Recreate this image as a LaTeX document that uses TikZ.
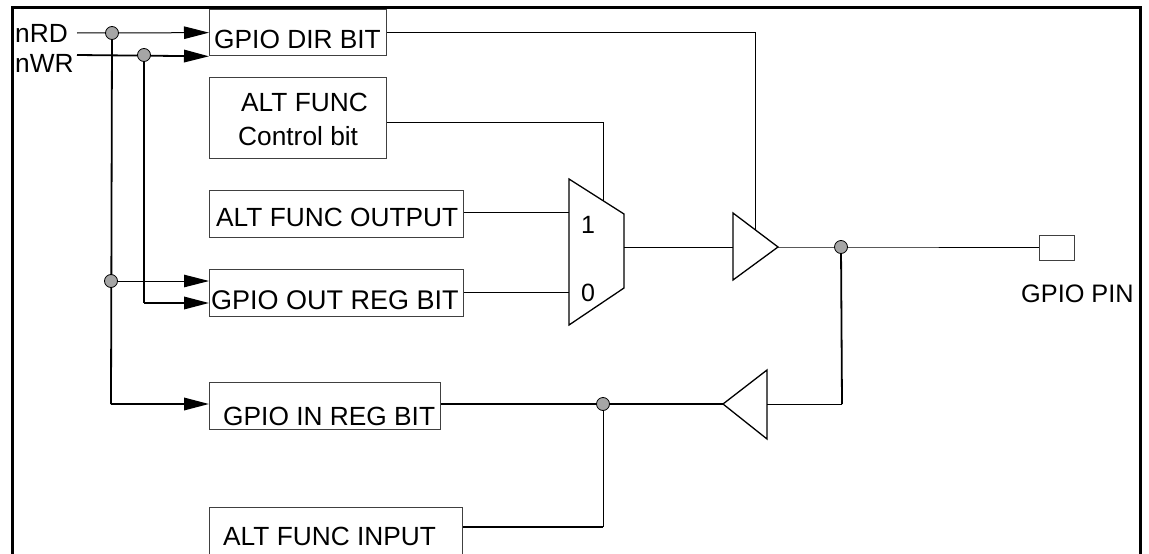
\documentclass[tikz,border=0pt]{standalone}
\usepackage{fontspec}
\setmainfont{Liberation Sans}
\usetikzlibrary{arrows.meta,calc}
\begin{document}
\begin{tikzpicture}[x=1pt,y=-1pt,
  box/.style={draw=black!75,line width=1.3pt,anchor=north west,inner sep=0pt,minimum width=#1},
  txt/.style={anchor=base west,inner sep=0pt,font=\fontsize{26.3}{30}\selectfont},
  lbl/.style={anchor=base,inner sep=0pt,font=\fontsize{25}{30}\selectfont},
  thin/.style={line width=1pt},
  thick/.style={line width=1.8pt},
  arr/.style={-{Triangle[length=25pt,width=12.5pt]}},
  jdot/.style={circle,fill=black!35,draw=black,line width=0.8pt,minimum size=13pt,inner sep=0pt},
  shp/.style={line width=1.3pt,line join=miter}
]
\useasboundingbox (0,0) rectangle (1149,554);
\fill[white] (0,0) rectangle (1149,554);
% frame
\draw[line width=3pt] (12,556) -- (12,7) -- (1140,7) -- (1140,556);

% boxes
\node[box=177pt,minimum height=46pt] (dir) at (209,9) {};
\node[box=177pt,minimum height=81pt] (ctrl) at (209,77) {};
\node[box=254pt,minimum height=47pt] (altout) at (209,190) {};
\node[box=254pt,minimum height=47pt] (outreg) at (209,269) {};
\node[box=231pt,minimum height=47pt] (inreg) at (209,382) {};
\node[box=253pt,minimum height=50pt] (altin) at (209,507) {};
\node[box=35pt,minimum height=25pt] (pin) at (1039,235) {};

% texts
\node[txt] (tnrd) at (15,42) {nRD};
\node[txt] (tnwr) at (15,72) {nWR};
\node[txt] (tdir) at (214,48) {GPIO DIR BIT};
\node[txt] (tctrl1) at (241,111) {ALT FUNC};
\node[txt] (tctrl2) at (238,145) {Control bit};
\node[txt] (taltout) at (216,226) {ALT FUNC OUTPUT};
\node[txt,font=\fontsize{27}{30}\selectfont] (toutreg) at (211,309) {GPIO OUT REG BIT};
\node[txt] (tinreg) at (223,425) {GPIO IN REG BIT};
\node[txt] (taltin) at (223,545) {ALT FUNC INPUT};
\node[txt,font=\fontsize{25.3}{30}\selectfont] (tpin) at (1021,302) {GPIO PIN};
\node[lbl] (one) at (588,233) {1};
\node[lbl] (zero) at (588,301) {0};

% mux
\coordinate (mtl) at (569,179);
\coordinate (mtr) at (624,214);
\coordinate (mbr) at (624,288);
\coordinate (mbl) at (569,325);
\coordinate (mout) at (624,247);
\coordinate (min1) at (569,212);
\coordinate (min0) at (569,292);
\coordinate (msel) at (603,200.6);
\draw[shp] (mtl) -- (mtr) -- (mbr) -- (mbl) -- cycle;

% output buffer
\coordinate (obt) at (733,213);
\coordinate (obb) at (733,280);
\coordinate (obtip) at (778,247);
\coordinate (obin) at (733,247);
\coordinate (oben) at (755,229.6);
\draw[shp] (obt) -- (obtip) -- (obb) -- cycle;

% input buffer
\coordinate (ibt) at (767,370);
\coordinate (ibb) at (767,439);
\coordinate (ibtip) at (723,404);
\coordinate (ibin) at (767,404);
\draw[shp] (ibt) -- (ibtip) -- (ibb) -- cycle;

% free ends and corners
\coordinate (rdstart) at (77,33);
\coordinate (wrstart) at (77,55);
\coordinate (rdbot) at (111,404);
\coordinate (wrbot) at (144,303);
\coordinate (dircorner) at (755,32);
\coordinate (ctrlcorner) at (603,122);
\coordinate (pincorner) at (842,404);
\coordinate (altincorner) at (603,527);

% dots (positions)
\coordinate (prd) at (112,33);
\coordinate (pwr) at (144,55);
\coordinate (pout) at (111,281);
\coordinate (pgp) at (841,247);
\coordinate (pin2) at (603,404);

% connectors
\draw[thin,arr] (rdstart) -- (dir.west);
\draw[thick,arr] (wrstart) -- (dir.south west);
\draw[thick] (prd) -- (rdbot);
\draw[thick,arr] (rdbot) -- (rdbot -| inreg.west);
\draw[thin,arr] (pout) -- (pout -| outreg.west);
\draw[thick] (pwr) -- (wrbot);
\draw[thick,arr] (wrbot) -- (wrbot -| outreg.west);

\draw[thin] (dir.east |- dircorner) -- (dircorner) -- (oben);
\draw[thin] (ctrl.east |- ctrlcorner) -- (ctrlcorner) -- (msel);
\draw[thin] (altout.east |- min1) -- (min1);
\draw[thin] (outreg.east |- min0) -- (min0);
\draw[thin] (mout) -- (obin);
\draw[thin] (obtip) -- (pgp) -- (pin.west |- pgp);
\draw[thick] (pgp) -- (pincorner);
\draw[thin] (pincorner) -- (ibin);
\draw[thick] (ibtip) -- (pin2) -- (pin2 -| inreg.east);
\draw[thin] (pin2) -- (altincorner);
\draw[thick] (altincorner) -- (altincorner -| altin.east);

% junction dots
\node[jdot] (drd) at (prd) {};
\node[jdot] (dwr) at (pwr) {};
\node[jdot] (dout) at (pout) {};
\node[jdot] (dgp) at (pgp) {};
\node[jdot] (din) at (pin2) {};
\end{tikzpicture}
\end{document}
